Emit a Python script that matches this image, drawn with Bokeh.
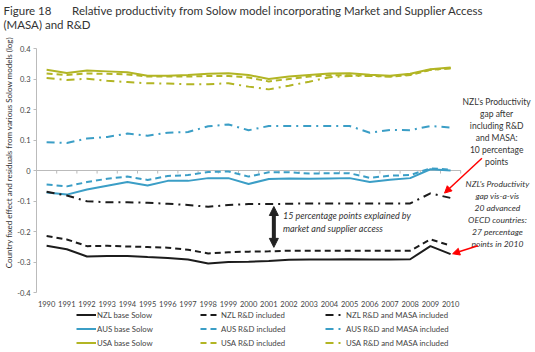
import math
from bokeh.plotting import figure
from bokeh.models import (Range1d, FixedTicker, Legend, LegendItem, Label, Arrow,
                          NormalHead, ColumnDataSource, Title)
from bokeh.embed import file_html
from bokeh.resources import INLINE

years = list(range(1990, 2011))
year_labels = [str(y) for y in years]

nzl_base = [-0.247, -0.258, -0.282, -0.280, -0.280, -0.284, -0.287, -0.292, -0.305, -0.300, -0.299,
            -0.297, -0.293, -0.292, -0.292, -0.291, -0.292, -0.292, -0.291, -0.248, -0.274]
nzl_rd = [-0.215, -0.226, -0.248, -0.247, -0.249, -0.251, -0.253, -0.260, -0.272, -0.268, -0.266,
          -0.265, -0.263, -0.263, -0.263, -0.263, -0.263, -0.263, -0.263, -0.226, -0.246]
nzl_masa = [-0.070, -0.082, -0.101, -0.104, -0.104, -0.106, -0.109, -0.113, -0.119, -0.113, -0.110,
            -0.110, -0.109, -0.108, -0.108, -0.108, -0.108, -0.108, -0.108, -0.075, -0.090]
aus_base = [-0.072, -0.079, -0.062, -0.050, -0.038, -0.049, -0.034, -0.034, -0.025, -0.025, -0.044,
            -0.028, -0.026, -0.027, -0.026, -0.025, -0.038, -0.030, -0.025, 0.004, 0.000]
aus_rd = [-0.046, -0.052, -0.038, -0.027, -0.020, -0.031, -0.018, -0.015, -0.005, -0.003, -0.020,
          -0.006, -0.006, -0.010, -0.009, -0.009, -0.024, -0.017, -0.015, 0.007, 0.003]
aus_masa = [0.093, 0.090, 0.105, 0.110, 0.121, 0.114, 0.124, 0.126, 0.145, 0.151, 0.132,
            0.146, 0.146, 0.146, 0.146, 0.146, 0.124, 0.133, 0.132, 0.146, 0.141]
usa_base = [0.330, 0.320, 0.328, 0.325, 0.322, 0.311, 0.311, 0.313, 0.317, 0.319, 0.313,
            0.300, 0.308, 0.313, 0.318, 0.319, 0.314, 0.311, 0.317, 0.332, 0.338]
usa_rd = [0.318, 0.313, 0.318, 0.317, 0.315, 0.308, 0.308, 0.308, 0.310, 0.310, 0.305,
          0.292, 0.300, 0.308, 0.312, 0.312, 0.311, 0.308, 0.313, 0.330, 0.335]
usa_masa = [0.303, 0.297, 0.301, 0.294, 0.290, 0.286, 0.285, 0.283, 0.283, 0.286, 0.275,
            0.266, 0.278, 0.291, 0.306, 0.310, 0.310, 0.308, 0.315, 0.330, 0.335]

y_ticks = [-0.4, -0.3, -0.2, -0.1, 0.0, 0.1, 0.2, 0.3, 0.4]
y_labels = ["-0.4", "-0.3", "-0.2", "-0.1", "0", "0.1", "0.2", "0.3", "0.4"]

NZL_C = "#1c1c1c"
AUS_C = "#3b9ec6"
USA_C = "#b2b524"
FONT = "Lato"

# layout: the frame fills the canvas below the title; axes are drawn at fixed data positions
W, H, TOP = 535, 352, 34
PX_YEAR = 20.2
X0 = 1989.5 - 36 / PX_YEAR
X1 = X0 + W / PX_YEAR
PX_UNIT = 305.0
Y1 = 0.4 + (48 - TOP) / PX_UNIT
Y0 = Y1 - (H - TOP) / PX_UNIT

p = figure(width=W, height=H, output_backend="svg", toolbar_location=None, title=None,
           x_range=Range1d(X0, X1), y_range=Range1d(Y0, Y1),
           min_border_left=0, min_border_right=0, min_border_top=TOP, min_border_bottom=0)
p.outline_line_color = None
p.xgrid.visible = False
p.ygrid.visible = False
p.background_fill_color = "white"
p.border_fill_color = "white"

p.add_layout(Title(text=("Figure 18\u00a0\u00a0\u00a0\u00a0\u00a0\u00a0\u00a0Relative productivity from Solow model "
                         "incorporating Market and Supplier Access\n(MASA) and R&D"),
                   text_font=FONT, text_font_size="11.5px", text_font_style="normal",
                   text_color="#333333", align="left", offset=3, vertical_align="top",
                   standoff=2, text_line_height=1.15), "above")

# x axis: labels only, drawn at the bottom of the value range
p.xaxis.fixed_location = -0.4
p.xaxis.ticker = FixedTicker(ticks=years)
p.xaxis.major_label_overrides = {y: l for y, l in zip(years, year_labels)}
p.xaxis.axis_line_color = None
p.xaxis.major_tick_line_color = None
p.xaxis.minor_tick_line_color = None
p.xaxis.major_label_text_font = FONT
p.xaxis.major_label_text_font_size = "7.5px"
p.xaxis.major_label_text_color = "#444444"
p.xaxis.major_label_standoff = 2

# y axis
p.yaxis.fixed_location = 1989.5
p.yaxis.bounds = (-0.4, 0.4)
p.yaxis.ticker = FixedTicker(ticks=y_ticks)
p.yaxis.major_label_overrides = {t: l for t, l in zip(y_ticks, y_labels)}
p.yaxis.axis_line_color = "#bbbbbb"
p.yaxis.major_tick_line_color = "#bbbbbb"
p.yaxis.major_tick_out = 3
p.yaxis.major_tick_in = 0
p.yaxis.minor_tick_line_color = None
p.yaxis.major_label_text_font = FONT
p.yaxis.major_label_text_font_size = "7.5px"
p.yaxis.major_label_text_color = "#444444"
p.yaxis.major_label_standoff = 3

p.add_layout(Label(x=X0 + 8 / PX_YEAR, y=0.059, angle=math.pi / 2,
                   text="Country fixed effect and residuals from various Solow models (log)",
                   text_font=FONT, text_font_size="8px", text_color="#333333",
                   text_align="center", text_baseline="middle"))

# zero line with small category ticks
bounds = [y - 0.5 for y in years] + [years[-1] + 0.5]
p.segment(x0=[bounds[0]], y0=[0], x1=[bounds[-1]], y1=[0], line_color="#bbbbbb", line_width=1)
p.segment(x0=bounds, y0=[0] * len(bounds), x1=bounds, y1=[-0.01] * len(bounds),
          line_color="#bbbbbb", line_width=1)

src = ColumnDataSource(dict(year=years, nzl_base=nzl_base, nzl_rd=nzl_rd, nzl_masa=nzl_masa,
                            aus_base=aus_base, aus_rd=aus_rd, aus_masa=aus_masa,
                            usa_base=usa_base, usa_rd=usa_rd, usa_masa=usa_masa))

DASH = "6 4"
DASHDOT = "8 5 2 5"
LW = 2

r = {}
for key, col in [("usa", USA_C), ("aus", AUS_C), ("nzl", NZL_C)]:
    r[key + "_masa"] = p.line("year", key + "_masa", source=src, line_color=col, line_width=LW,
                              line_dash=DASHDOT)
    r[key + "_rd"] = p.line("year", key + "_rd", source=src, line_color=col, line_width=LW,
                            line_dash=DASH)
    r[key + "_base"] = p.line("year", key + "_base", source=src, line_color=col, line_width=LW)

# annotations
p.add_layout(Arrow(start=NormalHead(size=9, fill_color="#222222", line_color="#222222"),
                   end=NormalHead(size=9, fill_color="#222222", line_color="#222222"),
                   x_start=2001.25, y_start=-0.118, x_end=2001.25, y_end=-0.252,
                   line_width=4, line_color="#222222"))
p.add_layout(Label(x=2001.7, y=-0.128, text="15 percentage points explained by\nmarket and supplier access",
                   text_font=FONT, text_font_size="9px", text_font_style="italic",
                   text_color="#333333", text_baseline="top", text_align="left",
                   text_line_height=1.25))

p.add_layout(Label(x=2012.28, y=0.24,
                   text="NZL's Productivity\ngap after\nincluding R&D\nand MASA:\n10 percentage\npoints",
                   text_font=FONT, text_font_size="8.5px", text_color="#333333",
                   text_baseline="top", text_align="center", text_line_height=1.2))
p.add_layout(Label(x=2012.32, y=-0.028,
                   text="NZL's Productivity\ngap vis-a-vis\n20 advanced\nOECD countries:\n27 percentage\npoints in 2010",
                   text_font=FONT, text_font_size="8.5px", text_font_style="italic",
                   text_color="#333333", text_baseline="top", text_align="center",
                   text_line_height=1.2))

p.add_layout(Arrow(end=NormalHead(size=7, fill_color="red", line_color="red"),
                   x_start=2011.55, y_start=0.04, x_end=2009.7, y_end=-0.074,
                   line_color="red", line_width=1.5))
p.add_layout(Arrow(end=NormalHead(size=7, fill_color="red", line_color="red"),
                   x_start=2011.35, y_start=-0.247, x_end=2010.1, y_end=-0.273,
                   line_color="red", line_width=1.5))

# legends: three columns
cols = [
    [("NZL base Solow", r["nzl_base"]), ("AUS base Solow", r["aus_base"]), ("USA base Solow", r["usa_base"])],
    [("NZL R&D included", r["nzl_rd"]), ("AUS R&D included", r["aus_rd"]), ("USA R&D included", r["usa_rd"])],
    [("NZL R&D and MASA included", r["nzl_masa"]), ("AUS R&D and MASA included", r["aus_masa"]),
     ("USA R&D and MASA included", r["usa_masa"])],
]
xs = [76, 200, 325]
for items, lx in zip(cols, xs):
    leg = Legend(items=[LegendItem(label=t, renderers=[rr]) for t, rr in items],
                 location=(lx, 3), orientation="vertical",
                 background_fill_alpha=0, border_line_color=None,
                 padding=0, margin=0, spacing=1, glyph_width=20, glyph_height=13,
                 label_height=13, label_standoff=1,
                 label_text_font=FONT, label_text_font_size="7.8px", label_text_color="#444444")
    p.add_layout(leg, "center")

open("out.html", "w").write(file_html(p, INLINE))
